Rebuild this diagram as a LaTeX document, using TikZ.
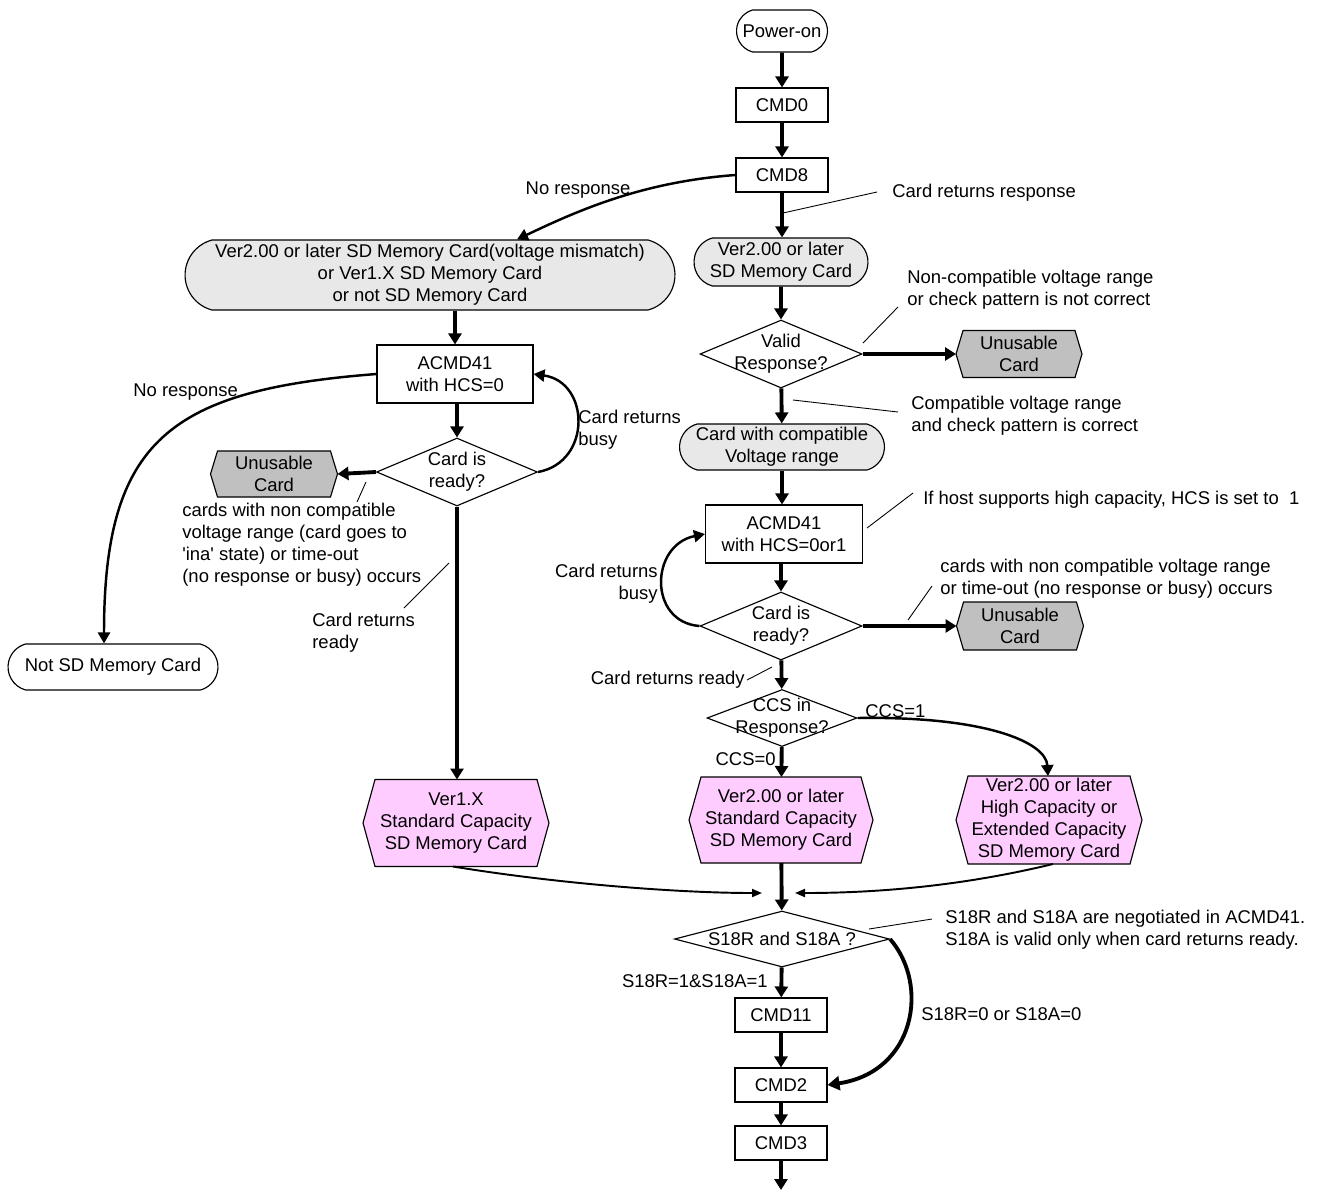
\documentclass[tikz,border=0pt]{standalone}
\usepackage{fontspec}
\setmainfont{Liberation Sans}
\usetikzlibrary{shapes.geometric, shapes.misc, arrows.meta, backgrounds, calc}

\definecolor{cardgray}{HTML}{E8E8E8}
\definecolor{unusegray}{HTML}{C0C0C0}
\definecolor{cardpink}{HTML}{FFCCFF}

% hexagon outline behind a hexbody node: #1 node, #2 fill, #3 inset
\newcommand{\hexframe}[3]{%
  \begin{scope}[on background layer]
    \draw[line width=0.65pt, fill=#2] (#1.west) -- ([xshift=#3]#1.north west) -- ([xshift=-#3]#1.north east) -- (#1.east)
      -- ([xshift=-#3]#1.south east) -- ([xshift=#3]#1.south west) -- cycle;
  \end{scope}}

\begin{document}
\begin{tikzpicture}[x=0.02cm, y=-0.02cm, font=\fontsize{10.5}{12.5}\selectfont,
    cmdframe/.style={draw, line width=0.65pt, align=center, inner sep=0pt},
    cmdbox/.style={cmdframe, rectangle, minimum width=1.84cm, minimum height=0.68cm},
    term/.style={cmdframe, rounded rectangle, rounded rectangle arc length=150},
    decision/.style={cmdframe, diamond},
    hexbody/.style={align=center, inner sep=0pt, outer sep=0pt},
    flow/.style={line width=2.2pt, -{Triangle[length=0.22cm, width=0.26cm]}},
    loopline/.style={line width=1.4pt, -{Triangle[length=0.22cm, width=0.24cm]}},
    mergeline/.style={line width=1.1pt, -{Triangle[length=0.2cm, width=0.16cm]}},
    lead/.style={line width=0.5pt},
    lbl/.style={align=left, inner sep=0pt},
  ]
  \useasboundingbox (0,0) rectangle (1318,1191);

  % main column
  \node[term, minimum width=1.82cm, minimum height=0.84cm] (power) at (782,31) {Power-on};
  \node[cmdbox] (cmd0) at (782,105) {CMD0};
  \node[cmdbox] (cmd8) at (782,175) {CMD8};
  \node[term, fill=cardgray, minimum width=3.48cm, minimum height=0.96cm] (ver2) at (781,262) {Ver2.00 or later\\SD Memory Card};
  \node[decision, minimum width=3.24cm, minimum height=1.36cm, label={[align=center]center:Valid\\Response?}] (valid) at (781,354) {};
  \node[hexbody, minimum width=2.52cm, minimum height=0.94cm] (unus1) at (1019,354) {Unusable\\Card};
  \hexframe{unus1}{unusegray}{0.14cm}
  \node[term, fill=cardgray, minimum width=4.1cm, minimum height=0.92cm] (compat) at (782,447) {Card with compatible\\Voltage range};
  \node[cmdframe, minimum width=3.14cm, minimum height=1.16cm] (acmdr) at (784,534) {ACMD41\\with HCS=0or1};
  \node[decision, minimum width=3.24cm, minimum height=1.36cm, label={[align=center]center:Card is\\ready?}] (readyr) at (781,626) {};
  \node[hexbody, minimum width=2.54cm, minimum height=0.96cm] (unus2) at (1020,626) {Unusable\\Card};
  \hexframe{unus2}{unusegray}{0.14cm}
  \node[decision, minimum width=3cm, minimum height=1.14cm, label={[align=center]center:CCS in\\Response?}] (ccs) at (782,718) {};
  \node[hexbody, minimum width=3.68cm, minimum height=1.72cm] (ver2std) at (781,820) {Ver2.00 or later\\Standard Capacity\\SD Memory Card};
  \hexframe{ver2std}{cardpink}{0.24cm}
  \node[hexbody, minimum width=3.72cm, minimum height=1.76cm] (ver2hc) at (1049,820) {Ver2.00 or later\\High Capacity or\\Extended Capacity\\SD Memory Card};
  \hexframe{ver2hc}{cardpink}{0.24cm}
  \node[decision, minimum width=4.3cm, minimum height=1.12cm, label={center:S18R and S18A ?}] (s18) at (782,939) {};
  \node[cmdbox] (cmd11) at (781,1015) {CMD11};
  \node[cmdbox] (cmd2) at (781,1085) {CMD2};
  \node[cmdbox] (cmd3) at (781,1143) {CMD3};
  \coordinate (cmdnext) at (781,1190);

  % left column
  \node[term, fill=cardgray, minimum width=9.8cm, minimum height=1.4cm] (verany) at (430,275) {Ver2.00 or later SD Memory Card(voltage mismatch)\\or Ver1.X SD Memory Card\\or not SD Memory Card};
  \node[cmdframe, minimum width=3.12cm, minimum height=1.16cm] (acmdl) at (455,374) {ACMD41\\with HCS=0};
  \node[decision, minimum width=3.22cm, minimum height=1.36cm, label={[align=center]center:Card is\\ready?}] (readyl) at (457,472) {};
  \node[hexbody, minimum width=2.54cm, minimum height=0.92cm] (unusl) at (274,474) {Unusable\\Card};
  \hexframe{unusl}{unusegray}{0.14cm}
  \node[term, minimum width=4.2cm, minimum height=0.92cm] (notsd) at (113,667) {Not SD Memory Card};
  \node[hexbody, minimum width=3.72cm, minimum height=1.74cm] (ver1x) at (456,823) {Ver1.X\\Standard Capacity\\SD Memory Card};
  \hexframe{ver1x}{cardpink}{0.24cm}
  \coordinate (mergeL) at (762,893);
  \coordinate (mergeR) at (795,893);

  % arrows
  \draw[flow] (power) -- (cmd0);
  \draw[flow] (cmd0) -- (cmd8);
  \draw[flow] (cmd8) -- (cmd8 |- ver2.north);
  \draw[loopline] (cmd8.west) .. controls (640,182) and (575,212) .. ([xshift=1.74cm]verany.north);
  \draw[flow] (ver2) -- (valid);
  \draw[flow] (valid.east) -- (unus1.west);
  \draw[flow] (valid) -- (compat);
  \draw[flow] (compat.south) -- (compat.south |- acmdr.north);
  \draw[flow] (readyr.north |- acmdr.south) -- (readyr.north);
  \draw[loopline] (readyr.west) .. controls (648,622) and (650,545) .. (acmdr.west);
  \draw[flow] (readyr.east) -- (unus2.west);
  \draw[flow] (readyr) -- (ccs);
  \draw[flow] (ccs) -- (ver2std);
  \draw[loopline] (ccs.east) .. controls (985,716) and (1046,742) .. ([xshift=-0.02cm]ver2hc.north);
  \draw[mergeline] ([xshift=-0.06cm]ver1x.south) .. controls (560,884) and (680,893) .. (mergeL);
  \draw[mergeline] ([xshift=0.08cm]ver2hc.south) .. controls (950,889) and (860,893) .. (mergeR);
  \draw[flow] (ver2std) -- (s18);
  \draw[flow] (s18) -- (cmd11);
  \draw[line width=2.2pt, -{Triangle[length=0.24cm, width=0.28cm]}] (s18.east) .. controls (930,985) and (915,1072) .. (cmd2.east);
  \draw[flow] (cmd11) -- (cmd2);
  \draw[flow] (cmd2) -- (cmd3);
  \draw[flow] (cmd3) -- (cmdnext);

  \draw[flow] (verany.south -| acmdl.north) -- (acmdl.north);
  \draw[loopline] (acmdl.west) .. controls (170,390) and (104,440) .. ([xshift=-0.18cm]notsd.north);
  \draw[flow] (readyl.north |- acmdl.south) -- (readyl.north);
  \draw[loopline] (readyl.east) .. controls (592,462) and (590,382) .. (acmdl.east);
  \draw[flow] (readyl.west) -- (unusl.east);
  \draw[flow] (readyl.south) -- (readyl.south |- ver1x.north);

  % labels
  \node[lbl] (nrtop) at (578,190) {No response};
  \node[lbl, anchor=west] (crresp) at (892,193) {Card returns response};
  \node[lbl, anchor=west] (ncvolt) at (907,290) {Non-compatible voltage range\\or check pattern is not correct};
  \node[lbl, anchor=west] (cvolt) at (911,416) {Compatible voltage range\\and check pattern is correct};
  \node[lbl, anchor=west] (hostcap) at (923,500) {If host supports high capacity, HCS is set to~~1};
  \node[lbl, anchor=west] (nccardr) at (940,579) {cards with non compatible voltage range\\or time-out (no response or busy) occurs};
  \node[lbl, anchor=east, align=right] (busyr) at (658,584) {Card returns\\busy};
  \node[lbl, anchor=east] (readylbl) at (745,680) {Card returns ready};
  \node[lbl, anchor=west] (ccsone) at (865,711) {CCS=1};
  \node[lbl, anchor=east] (ccszero) at (776,759) {CCS=0};
  \node[lbl, anchor=west] (s18note) at (945,930) {S18R and S18A are negotiated in ACMD41.\\S18A is valid only when card returns ready.};
  \node[lbl, anchor=east] (s18yes) at (768,981) {S18R=1\&S18A=1};
  \node[lbl, anchor=west] (s18no) at (921,1014) {S18R=0 or S18A=0};
  \node[lbl, anchor=west] (nrleft) at (133,392) {No response};
  \node[lbl, anchor=west] (busyl) at (578,430) {Card returns\\busy};
  \node[lbl, anchor=west] (nccardl) at (182,545) {cards with non compatible\\voltage range (card goes to\\\textquotesingle ina\textquotesingle{} state) or time-out\\(no response or busy) occurs};
  \node[lbl, anchor=west] (readyleft) at (312,633) {Card returns\\ready};

  % leader lines
  \coordinate (crA) at (783,213); \coordinate (crB) at (877,192);
  \coordinate (nvA) at (863,343); \coordinate (nvB) at (898,307);
  \coordinate (cvA) at (793,400); \coordinate (cvB) at (898,412);
  \coordinate (hcA) at (867,528); \coordinate (hcB) at (913,493);
  \coordinate (ncA) at (908,620); \coordinate (ncB) at (932,586);
  \coordinate (rdA) at (772,667); \coordinate (rdB) at (747,680);
  \coordinate (snA) at (869,929); \coordinate (snB) at (932,919);
  \coordinate (nlA) at (366,482); \coordinate (nlB) at (357,502);
  \coordinate (rlA) at (449,563); \coordinate (rlB) at (404,608);
  \foreach \a/\b in {crA/crB, nvA/nvB, cvA/cvB, hcA/hcB, ncA/ncB, rdA/rdB, snA/snB, nlA/nlB, rlA/rlB}
    \draw[lead] (\a) -- (\b);
\end{tikzpicture}
\end{document}
